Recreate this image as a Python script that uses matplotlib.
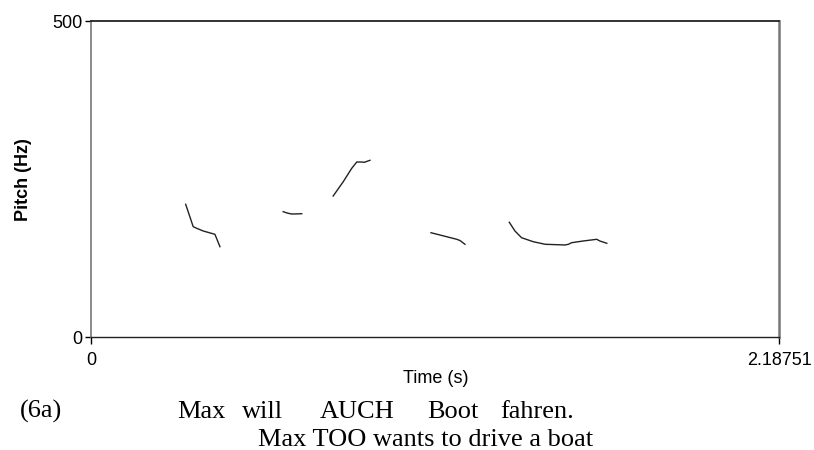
import numpy as np
import matplotlib
matplotlib.use("Agg")
import matplotlib.pyplot as plt

# pitch track segments: time (s), pitch (Hz)
seg1_t = [0.301, 0.325, 0.336, 0.357, 0.394, 0.410]
seg1_f = [210, 174.5, 172, 167.7, 162.5, 142.9]
seg2_t = [0.611, 0.625, 0.638, 0.655, 0.670]
seg2_f = [198.3, 196.0, 194.6, 194.8, 195.1]
seg3_t = [0.770, 0.802, 0.829, 0.845, 0.861, 0.869, 0.887]
seg3_f = [223.1, 245.7, 266.9, 276.9, 276.9, 276.4, 279.6]
seg4_t = [1.081, 1.163, 1.173, 1.189]
seg4_f = [165.0, 154.6, 152.7, 146.7]
seg5_t = [1.330, 1.348, 1.369, 1.406, 1.444, 1.507, 1.518, 1.528, 1.565, 1.608, 1.618, 1.640]
seg5_f = [181.5, 167.7, 157.1, 150.8, 146.7, 145.6, 146.7, 149.2, 151.9, 154.6, 151.9, 148.3]
segments = [(seg1_t, seg1_f), (seg2_t, seg2_f), (seg3_t, seg3_f),
            (seg4_t, seg4_f), (seg5_t, seg5_f)]

t_max = 2.18751
f_max = 500

words = ["Max", "will", "AUCH", "Boot", "fahren."]
word_x = [177, 242, 320, 427, 500]   # left edges in pixels
gloss = "Max TOO wants to drive a boat"
example_no = "(6a)"

W, H = 814, 450
fig = plt.figure(figsize=(W / 100, H / 100), dpi=100)
ax = fig.add_axes([91 / W, 1 - 337 / H, (779 - 91) / W, (337 - 21) / H])

for t, f in segments:
    ax.plot(t, f, color="#222222", lw=1.0)

ax.set_xlim(0, t_max)
ax.set_ylim(0, f_max)
ax.set_xticks([0, t_max])
ax.set_xticklabels(["0", "2.18751"])
ax.set_yticks([0, f_max])
ax.set_yticklabels(["0", "500"])

sans = "Liberation Sans"
serif = "Liberation Serif"
ax.tick_params(axis="x", direction="out", length=5, width=1, pad=6, labelsize=13)
ax.tick_params(axis="y", direction="out", length=4, width=1, pad=2, labelsize=13)
for lab in ax.get_xticklabels() + ax.get_yticklabels():
    lab.set_fontfamily(sans)

ax.spines["top"].set_color("#222222"); ax.spines["top"].set_linewidth(1.3)
ax.spines["bottom"].set_color("#222222"); ax.spines["bottom"].set_linewidth(1.0)
ax.spines["left"].set_color("#777777"); ax.spines["left"].set_linewidth(1.2)
ax.spines["right"].set_color("#777777"); ax.spines["right"].set_linewidth(1.8)

fig.text(23 / W, 1 - 180 / H, "Pitch (Hz)", rotation=90, ha="center", va="center",
         fontsize=13, fontweight="bold", family=sans)
fig.text(436 / W, 1 - 383 / H, "Time (s)", ha="center", va="baseline",
         fontsize=13, family=sans)

fig.text(20 / W, 1 - 418 / H, example_no, ha="left", va="baseline", fontsize=19, family=serif)
for w, x in zip(words, word_x):
    fig.text(x / W, 1 - 418 / H, w, ha="left", va="baseline", fontsize=19, family=serif)
fig.text(258 / W, 1 - 446 / H, gloss, ha="left", va="baseline", fontsize=19, family=serif)

fig.savefig("out.png", dpi=100)
